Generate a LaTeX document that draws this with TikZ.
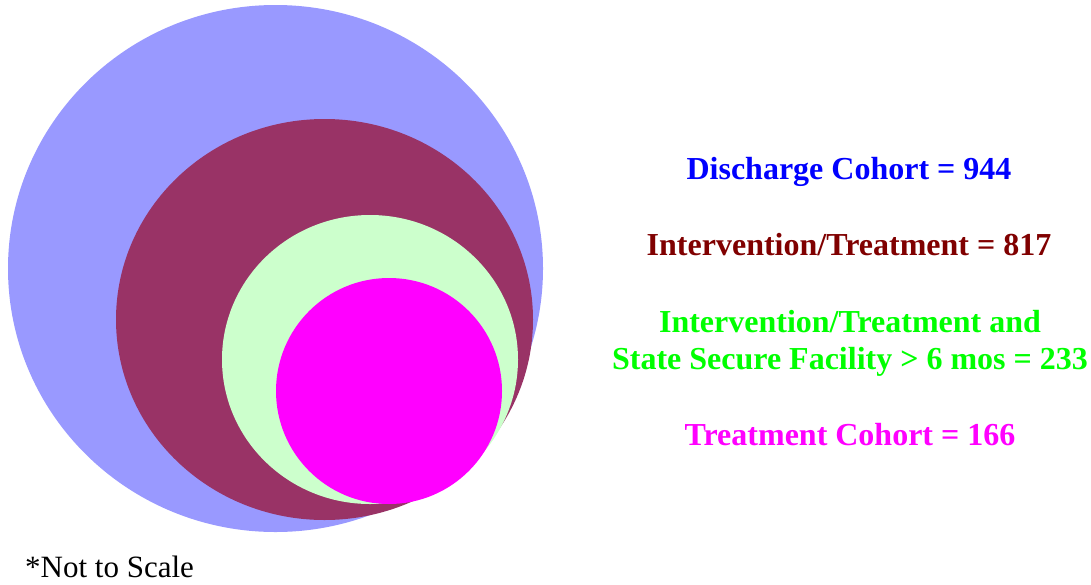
\documentclass[tikz,border=0pt]{standalone}
\usepackage{fontspec}
\setmainfont{Liberation Serif}
\definecolor{cohortfill}{HTML}{9999FF}
\definecolor{interfill}{HTML}{993366}
\definecolor{securefill}{HTML}{CCFFCC}
\definecolor{treatfill}{HTML}{FF00FF}
\definecolor{cohorttext}{HTML}{0000FF}
\definecolor{intertext}{HTML}{800000}
\definecolor{securetext}{HTML}{00FF00}
\begin{document}
\begin{tikzpicture}[x=1pt,y=-1pt,line join = round, line cap=round,
    label/.style={anchor=base,inner sep=0pt,font=\fontsize{32}{37}\selectfont\bfseries,align=center}]
            \useasboundingbox (0,0) rectangle (1091,584);
            \fill[cohortfill] (275.5,268.5) ellipse[x radius=267.5,y radius=263.5];
            \fill[interfill] (324.5,319.5) ellipse[x radius=208.5,y radius=200.5];
            \fill[securefill] (370,359.5) ellipse[x radius=148,y radius=144.5];
            \fill[treatfill] (389,391) circle(113);
            \node[label,text=cohorttext] (discharge) at (849,179) {Discharge Cohort = 944};
            \node[label,text=intertext] (intervention) at (849,255) {Intervention/Treatment = 817};
            \node[label,text=securetext] (secure) at (850,369) {Intervention/Treatment and\\State Secure Facility > 6 mos = 233};
            \node[label,text=treatfill] (treatment) at (850,445) {Treatment Cohort = 166};
            \node[anchor=base west,inner sep=0pt,font=\fontsize{31}{36}\selectfont] (scale) at (25,577) {*Not to Scale};
        \end{tikzpicture}
\end{document}
